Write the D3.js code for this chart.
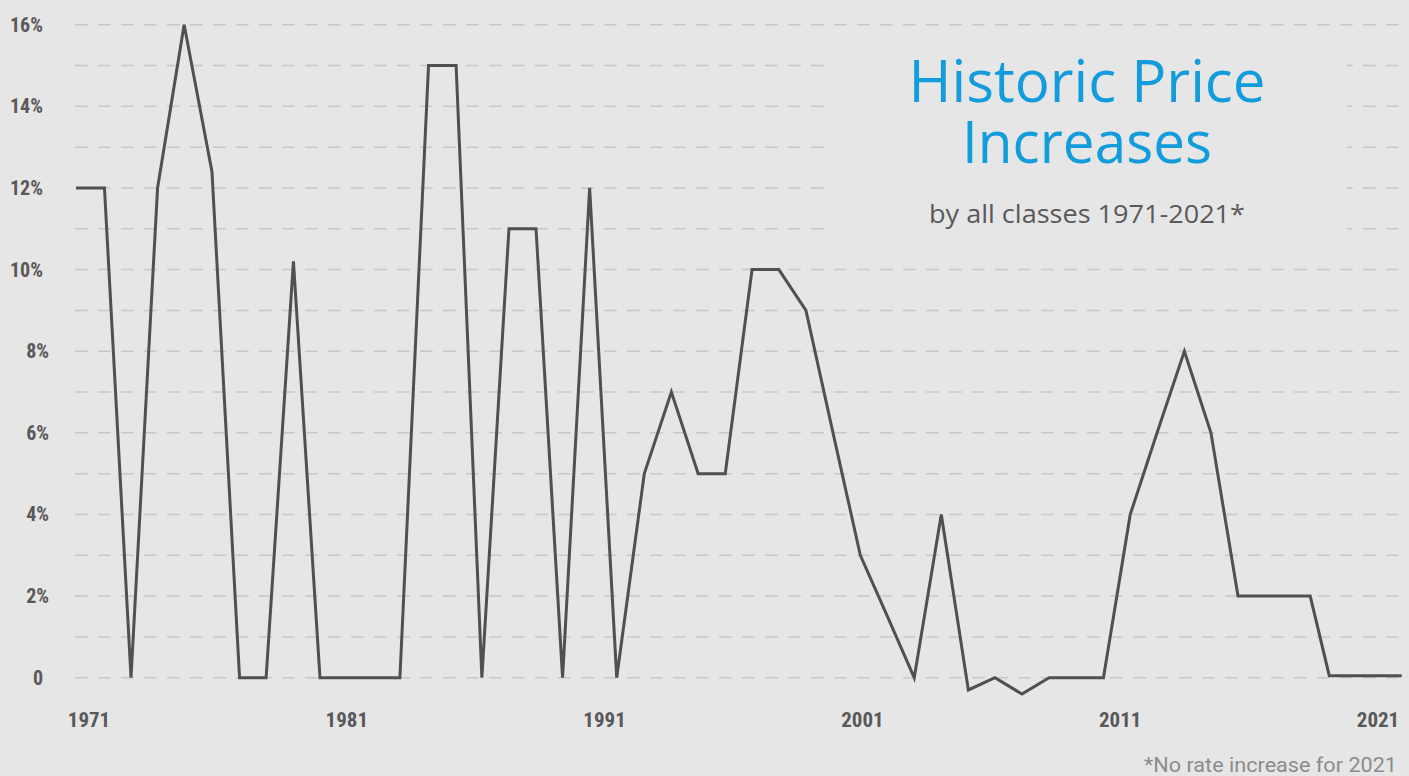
<!DOCTYPE html>
<html>
<head>
<meta charset="utf-8">
<script src="https://cdn.jsdelivr.net/npm/d3@7"></script>
<style>
  body { margin: 0; background: #e6e6e6; }
  .tick-label { font-family: "Liberation Sans Narrow", "Arial Narrow", "Roboto Condensed", sans-serif; font-weight: bold; fill: #595959; }
</style>
</head>
<body>
<svg id="svgchart"></svg>
<script>
'use strict'

// rate change points, x (points are not exactly one per label year)
const years = [1970.50, 1971.60, 1972.63, 1973.66, 1974.69, 1975.77, 1976.84, 1977.87, 1978.93, 1979.96,
  1981.01, 1982.02, 1983.06, 1984.17, 1985.24, 1986.24, 1987.29, 1988.34, 1989.37, 1990.42,
  1991.47, 1992.54, 1993.59, 1994.63, 1995.68, 1996.72, 1997.76, 1998.81, 1999.86, 2000.92,
  2001.97, 2003.01, 2004.06, 2005.11, 2006.14, 2007.19, 2008.24, 2009.27, 2010.35, 2011.39,
  2012.43, 2013.49, 2014.52, 2015.57, 2018.37, 2019.11, 2021.92]
const increases = [12, 12, 0, 12, 16, 12.4, 0, 0, 10.2, 0,
  0, 0, 0, 15, 15, 0, 11, 11, 0, 12,
  0, 5, 7, 5, 5, 10, 10, 9, 6, 3,
  1.5, 0, 4, -0.3, 0, -0.4, 0, 0, 0, 4,
  6, 8, 6, 2, 2, 0.05, 0.05]
const xTicks = [1971, 1981, 1991, 2001, 2011, 2021]
const yTicks = [0, 2, 4, 6, 8, 10, 12, 14, 16]
const gridValues = d3.range(0, 17)

const width = 1409
const height = 776

const x = d3.scaleLinear().domain([1971, 2021]).range([89, 1378])
const y = d3.scaleLinear().domain([0, 16]).range([677.7, 24.7])

const svg = d3.select('#svgchart')
  .attr("width", width)
  .attr("height", height)

svg.append("rect")
  .attr("width", width)
  .attr("height", height)
  .attr("fill", "#e6e6e6")

// dashed grid, one line per percent
svg.append("g")
  .selectAll("line")
  .data(gridValues)
  .enter().append("line")
  .attr("x1", 75)
  .attr("x2", width)
  .attr("y1", d => y(d))
  .attr("y2", d => y(d))
  .attr("stroke", "#c7c7c7")
  .attr("stroke-width", 1.5)
  .attr("stroke-dasharray", "12.7 10.3")

// the title sits on a plain patch that hides the grid behind it
svg.append("rect")
  .attr("x", 828)
  .attr("y", 45)
  .attr("width", 519)
  .attr("height", 205)
  .attr("fill", "#e6e6e6")

// y labels
svg.append("g")
  .selectAll("text")
  .data(yTicks)
  .enter().append("text")
  .attr("class", "tick-label")
  .attr("font-size", 20)
  .attr("text-anchor", "end")
  .attr("x", d => d === 0 ? 43 : (d < 10 ? 49 : 43))
  .attr("y", d => y(d))
  .attr("dy", "0.35em")
  .text(d => d === 0 ? "0" : d + "%")

// x labels
svg.append("g")
  .selectAll("text")
  .data(xTicks)
  .enter().append("text")
  .attr("class", "tick-label")
  .attr("font-size", 21)
  .attr("text-anchor", "middle")
  .attr("x", d => x(d))
  .attr("y", 727)
  .text(d => d)

// the line
const line = d3.line()
  .x((d, i) => x(years[i]))
  .y(d => y(d))

svg.append("path")
  .datum(increases)
  .attr("d", line)
  .attr("fill", "none")
  .attr("stroke", "#505050")
  .attr("stroke-width", 3)

// title block
const titleFont = '"Open Sans", "Noto Sans", sans-serif'
svg.append("text")
  .attr("x", 1087)
  .attr("y", 101.7)
  .attr("text-anchor", "middle")
  .attr("font-family", titleFont)
  .attr("font-size", 58)
  .attr("fill", "#139cdc")
  .attr("textLength", 357)
  .attr("lengthAdjust", "spacingAndGlyphs")
  .text("Historic Price")
svg.append("text")
  .attr("x", 1087)
  .attr("y", 163.3)
  .attr("text-anchor", "middle")
  .attr("font-family", titleFont)
  .attr("font-size", 58)
  .attr("fill", "#139cdc")
  .attr("textLength", 250)
  .attr("lengthAdjust", "spacingAndGlyphs")
  .text("Increases")
svg.append("text")
  .attr("x", 1087)
  .attr("y", 222.7)
  .attr("text-anchor", "middle")
  .attr("font-family", titleFont)
  .attr("font-size", 26)
  .attr("fill", "#595959")
  .attr("textLength", 316)
  .attr("lengthAdjust", "spacingAndGlyphs")
  .text("by all classes 1971-2021*")

// footnote
svg.append("text")
  .attr("x", 1397)
  .attr("y", 771.7)
  .attr("text-anchor", "end")
  .attr("font-family", "Roboto, sans-serif")
  .attr("font-size", 21)
  .attr("fill", "#8c8c8c")
  .attr("textLength", 253)
  .attr("lengthAdjust", "spacingAndGlyphs")
  .text("*No rate increase for 2021")
</script>
</body>
</html>
